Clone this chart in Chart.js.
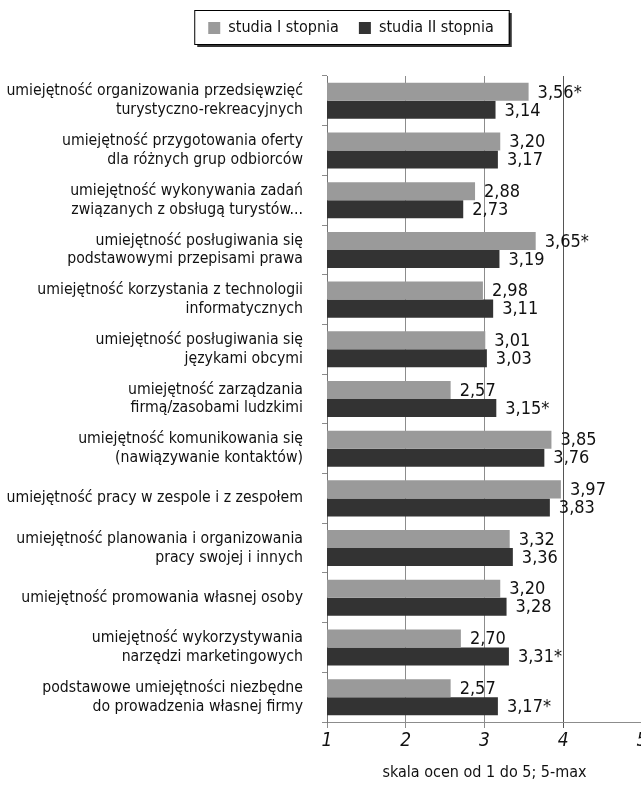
<!DOCTYPE html>
<html lang="pl">
<head>
    <meta charset="UTF-8">
    <title>Ocena umiejętności</title>
    <script src="https://cdn.jsdelivr.net/npm/chart.js"></script>
    <style>
        html, body {
            margin: 0;
            padding: 0;
            background: #fff;
            overflow: hidden;
        }

        .chart-container {
            width: 680px;
            height: 788px;
        }
    </style>
</head>
<body>

    <div class="chart-container">
        <canvas id="skillsChart"></canvas>
    </div>

    <script>
        const categories = [
            ['umiejętność organizowania przedsięwzięć', 'turystyczno-rekreacyjnych'],
            ['umiejętność przygotowania oferty', 'dla różnych grup odbiorców'],
            ['umiejętność wykonywania zadań', 'związanych z obsługą turystów...'],
            ['umiejętność posługiwania się', 'podstawowymi przepisami prawa'],
            ['umiejętność korzystania z technologii', 'informatycznych'],
            ['umiejętność posługiwania się', 'językami obcymi'],
            ['umiejętność zarządzania', 'firmą/zasobami ludzkimi'],
            ['umiejętność komunikowania się', '(nawiązywanie kontaktów)'],
            'umiejętność pracy w zespole i z zespołem',
            ['umiejętność planowania i organizowania', 'pracy swojej i innych'],
            'umiejętność promowania własnej osoby',
            ['umiejętność wykorzystywania', 'narzędzi marketingowych'],
            ['podstawowe umiejętności niezbędne', 'do prowadzenia własnej firmy']
        ];
        const seriesNames = ['studia I stopnia', 'studia II stopnia'];
        const firstDegree = [3.56, 3.20, 2.88, 3.65, 2.98, 3.01, 2.57, 3.85, 3.97, 3.32, 3.20, 2.70, 2.57];
        const secondDegree = [3.14, 3.17, 2.73, 3.19, 3.11, 3.03, 3.15, 3.76, 3.83, 3.36, 3.28, 3.31, 3.17];
        // which values carry the "*" mark
        const firstStar = [true, false, false, true, false, false, false, false, false, false, false, false, false];
        const secondStar = [false, false, false, false, false, false, true, false, false, false, false, true, true];
        const scaleMin = 1;
        const scaleMax = 5;
        const axisTitle = 'skala ocen od 1 do 5; 5-max';

        const FONT = "'Liberation Sans Narrow', 'DejaVu Sans Condensed', 'Arial Narrow', sans-serif";

        // bar value labels, e.g. "3,56*"
        const valueLabels = {
            id: 'valueLabels',
            afterDatasetsDraw(chart) {
                const ctx = chart.ctx;
                ctx.save();
                ctx.font = '18px ' + FONT;
                ctx.fillStyle = '#111';
                ctx.textAlign = 'left';
                ctx.textBaseline = 'middle';
                chart.data.datasets.forEach((ds, i) => {
                    chart.getDatasetMeta(i).data.forEach((bar, j) => {
                        const txt = ds.data[j].toFixed(2).replace('.', ',') + (ds.stars[j] ? '*' : '');
                        ctx.fillText(txt, bar.x + 9, bar.y + 1);
                    });
                });
                ctx.restore();
            }
        };

        // room above the plot, legend moved right a bit, framed box behind it
        const legendBox = {
            id: 'legendBox',
            beforeInit(chart) {
                const fit = chart.legend.fit;
                chart.legend.fit = function () {
                    fit.call(this);
                    this.height = 76;
                };
            },
            afterLayout(chart) {
                chart.legend.left += 30;
                chart.legend.right += 30;
            },
            beforeDraw(chart) {
                const boxes = chart.legend.legendHitBoxes;
                if (!boxes || !boxes.length) return;
                const first = boxes[0];
                const last = boxes[boxes.length - 1];
                const x = first.left - 14;
                const y = 10;
                const w = last.left + last.width + 15 - x;
                const h = 34;
                const ctx = chart.ctx;
                ctx.save();
                ctx.fillStyle = '#333';
                ctx.fillRect(x + 3, y + 3, w, h);
                ctx.fillStyle = '#fff';
                ctx.fillRect(x, y, w, h);
                ctx.strokeStyle = '#000';
                ctx.lineWidth = 1;
                ctx.strokeRect(x + 0.5, y + 0.5, w, h);
                ctx.restore();
            }
        };

        const ctx = document.getElementById('skillsChart').getContext('2d');

        new Chart(ctx, {
            type: 'bar',
            data: {
                labels: categories,
                datasets: [
                    {
                        label: seriesNames[0],
                        data: firstDegree,
                        stars: firstStar,
                        backgroundColor: '#9a9a9a',
                        barPercentage: 1.0,
                        categoryPercentage: 0.725
                    },
                    {
                        label: seriesNames[1],
                        data: secondDegree,
                        stars: secondStar,
                        backgroundColor: '#333333',
                        barPercentage: 1.0,
                        categoryPercentage: 0.725
                    }
                ]
            },
            options: {
                indexAxis: 'y',
                responsive: true,
                maintainAspectRatio: false,
                animation: false,
                layout: {
                    padding: { left: 0, right: 38, top: 0, bottom: 0 }
                },
                plugins: {
                    tooltip: { enabled: false },
                    legend: {
                        position: 'top',
                        align: 'center',
                        labels: {
                            font: { family: FONT, size: 16 },
                            color: '#111',
                            boxWidth: 12,
                            boxHeight: 12,
                            padding: 20
                        }
                    }
                },
                scales: {
                    x: {
                        min: scaleMin,
                        max: scaleMax,
                        afterFit(scale) { scale.height = 66; },
                        ticks: {
                            stepSize: 1,
                            font: { family: FONT, size: 19, style: 'italic' },
                            color: '#111',
                            padding: 2
                        },
                        grid: {
                            color: c => (c.tick && c.tick.value === 4 ? '#555' : '#8c8c8c'),
                            tickLength: 6
                        },
                        border: { color: '#8c8c8c' },
                        title: {
                            display: true,
                            text: axisTitle,
                            font: { family: FONT, size: 16 },
                            color: '#111',
                            padding: { top: 0, bottom: 6 }
                        }
                    },
                    y: {
                        afterFit(scale) { scale.width = 327; },
                        ticks: {
                            font: { family: FONT, size: 15.7, lineHeight: 1.2 },
                            color: '#111',
                            padding: 19,
                            autoSkip: false
                        },
                        grid: {
                            offset: true,
                            drawOnChartArea: false,
                            tickLength: 5,
                            color: '#8c8c8c'
                        },
                        border: { color: '#777' }
                    }
                }
            },
            plugins: [valueLabels, legendBox]
        });
    </script>

</body>
</html>
